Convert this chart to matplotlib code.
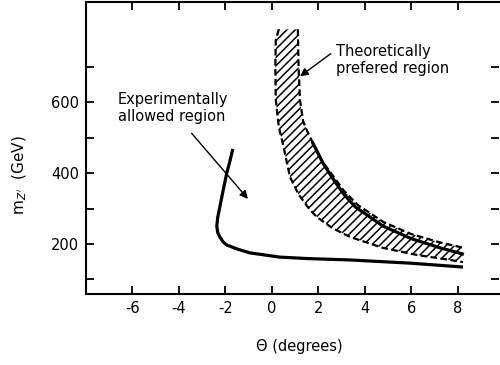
import numpy as np
import matplotlib
matplotlib.use('Agg')
import matplotlib.pyplot as plt

# experimentally allowed region boundary
exp_theta = [-1.68, -1.80, -1.94, -2.10, -2.24, -2.33, -2.37, -2.33, -2.24, -2.10, -1.94,
             -1.50, -0.95, 0.34, 1.5, 3.36, 5.95, 8.23]
exp_m = [468, 435, 400, 350, 304, 275, 250, 232, 220, 206, 197,
         186, 175, 163, 159, 155, 146, 135]

# theoretically preferred band: lower/left edge and upper/right edge
low_theta = [0.30, 0.17, 0.15, 0.17, 0.30, 0.47, 0.78, 1.15, 1.64, 1.94, 2.6, 3.36, 4.78, 6.25, 7.67, 8.23]
low_m = [805, 775, 700, 606, 530, 484, 389, 340, 296, 276, 245, 220, 189, 169, 155, 149]
up_theta = [1.12, 1.15, 1.21, 1.35, 1.51, 1.77, 2.2, 2.6, 3.1, 3.7, 4.8, 6.0, 7.2, 8.2]
up_m = [805, 700, 606, 545, 520, 484, 430, 395, 350, 310, 262, 228, 205, 190]

# solid curve inside the band
th_theta = [1.77, 2.2, 2.6, 3.1, 3.6, 4.8, 6.0, 7.2, 8.2]
th_m = [484, 428, 387, 340, 304, 250, 215, 190, 172]

xticks = [-6, -4, -2, 0, 2, 4, 6, 8]
yticks = [100, 200, 300, 400, 500, 600, 700]
ylabels = ['', '200', '', '400', '', '600', '']

plt.rcParams['hatch.linewidth'] = 1.1
plt.rcParams['axes.linewidth'] = 1.5

fig = plt.figure(figsize=(5, 3.65), dpi=100)
ax = fig.add_axes([0.172, 0.1945, 0.827, 0.80])

ax.plot(exp_theta, exp_m, color='black', lw=2.3, solid_capstyle='butt')

band_x = low_theta + up_theta[::-1]
band_y = low_m + up_m[::-1]
ax.fill(band_x, band_y, facecolor='white', edgecolor='black', hatch='////', lw=0)
ax.plot(low_theta, low_m, color='black', lw=1.6, ls=(0, (3, 1.5)))
ax.plot(up_theta, up_m, color='black', lw=1.6, ls=(0, (3, 1.5)))
ax.plot(th_theta, th_m, color='black', lw=2.3)

ax.text(-6.64, 583, 'Experimentally\nallowed region', fontsize=10.5, ha='left', va='center',
        linespacing=1.15)
ax.annotate('', xy=(-0.95, 321), xytext=(-3.53, 518),
            arrowprops=dict(arrowstyle='-|>', color='black', lw=1.0, mutation_scale=12))
ax.text(2.76, 718, 'Theoretically\nprefered region', fontsize=10.5, ha='left', va='center',
        linespacing=1.15)
ax.annotate('', xy=(1.12, 668), xytext=(2.63, 741),
            arrowprops=dict(arrowstyle='-|>', color='black', lw=1.0, mutation_scale=12))

ax.set_xlim(-8, 9.8)
ax.set_ylim(59, 882)
ax.set_xticks(xticks)
ax.set_xticklabels([str(t) for t in xticks])
ax.set_yticks(yticks)
ax.set_yticklabels(ylabels)
ax.tick_params(direction='in', length=6, width=1.3, labelsize=10.5, top=True, right=True, pad=5)
ax.spines['right'].set_visible(False)

fig.text(0.598, 0.05, 'Θ (degrees)', ha='center', va='center', fontsize=10.5)
fig.text(0.04, 0.52, r"m$_{Z'}$  (GeV)", ha='center', va='center', rotation=90, fontsize=11)

plt.savefig('out.png', dpi=100)
